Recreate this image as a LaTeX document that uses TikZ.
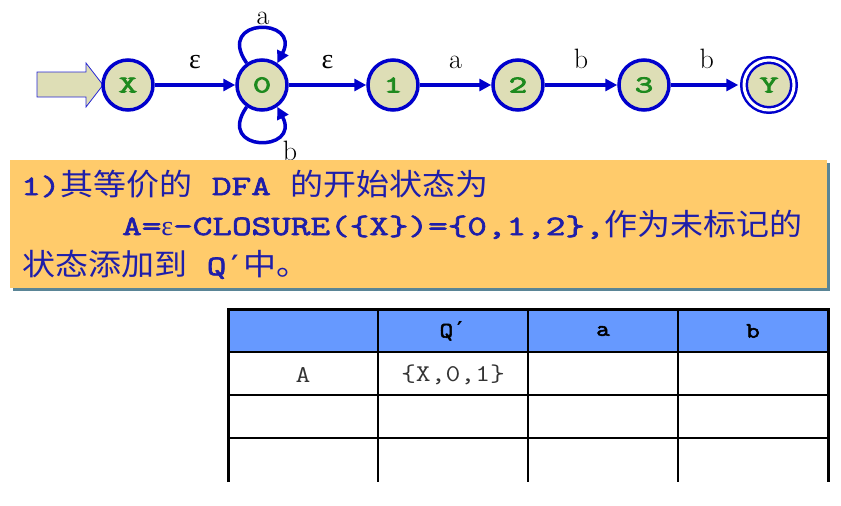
\documentclass[tikz,border=0pt]{standalone}
\usepackage{fontspec}
\usepackage{tikz}
\usetikzlibrary{arrows.meta, shadows, positioning}

\newfontfamily\cjkfont[FakeStretch=1.1]{Noto Sans CJK SC}
\newfontfamily\monofont[FakeStretch=1.2]{Latin Modern Mono}
\newfontfamily\monohead[FakeStretch=1.2, FakeBold=2.5]{Latin Modern Mono}
\newfontfamily\monobold[FakeStretch=1.36, FakeBold=2.5]{Latin Modern Mono}
\newfontfamily\monowide[FakeStretch=1.5, FakeBold=3.5]{Latin Modern Mono}
\newfontfamily\primefont{DejaVu Sans Mono}
\newfontfamily\greekfont{Liberation Serif}

\definecolor{statefill}{HTML}{DEDEB6}
\definecolor{stateblue}{HTML}{0000CC}
\definecolor{labelgreen}{HTML}{1E8A1E}
\definecolor{notefill}{HTML}{FFCB6B}
\definecolor{noteshadow}{HTML}{5A8596}
\definecolor{notetext}{HTML}{1E1EAA}
\definecolor{headfill}{HTML}{6699FF}

\newcommand{\zh}[1]{{\fontsize{30}{30}\cjkfont #1}}
\newcommand{\tb}[1]{{\monobold #1}}
\newcommand{\gr}[1]{{\greekfont #1}}
\newcommand{\pr}{{\primefont\bfseries ′}}

\begin{document}
\begin{tikzpicture}[x=1pt, y=-1pt, node distance=125pt]

\tikzstyle{state} = [circle, minimum size=50pt, inner sep=0pt, fill=statefill, draw=stateblue, line width=3.5pt, text=labelgreen, font=\fontsize{24}{24}\monowide]
\tikzstyle{final} = [state, double, double distance=3pt, line width=2.5pt]
\tikzstyle{arrow} = [line width=3.5pt, draw=stateblue, -{Triangle[length=12pt, width=12pt]}]
\tikzstyle{lbl} = [anchor=base, yshift=17pt, inner sep=0pt, font=\fontsize{28}{28}\selectfont]
\tikzstyle{notebox} = [rectangle, minimum width=817pt, minimum height=128pt, fill=notefill, drop shadow={shadow xshift=3pt, shadow yshift=-3pt, fill=noteshadow, opacity=1}]
\tikzstyle{noteline} = [anchor=base west, inner sep=0pt, text=notetext, font=\fontsize{28}{28}\selectfont]
\tikzstyle{cell} = [inner sep=0pt, font=\fontsize{24}{24}\monofont]
\tikzstyle{headcell} = [inner sep=0pt, font=\fontsize{22}{22}\monohead]

\useasboundingbox (0,0) rectangle (841,506);

% start arrow
\draw [fill=statefill, draw=stateblue!85, line width=0.8pt] (37,72) -- (86,72) -- (86,63) -- (103,85) -- (86,107) -- (86,97) -- (37,97) -- cycle;

\node (x) [state] at (128,85) {X};
\node (q0) [state, right of=x, xshift=9pt] {0};
\node (q1) [state, right of=q0, xshift=6pt] {1};
\node (q2) [state, right of=q1] {2};
\node (q3) [state, right of=q2, xshift=1pt] {3};
\node (y) [final, right of=q3] {Y};

\draw [arrow] (x) -- node [lbl] {\gr{ε}} (q0);
\draw [arrow] (q0) -- node [lbl] {\gr{ε}} (q1);
\draw [arrow] (q1) -- node [lbl] {a} (q2);
\draw [arrow] (q2) -- node [lbl] {b} (q3);
\draw [arrow, shorten >=4.5pt] (q3) -- node [lbl] {b} (y);
\draw [arrow] (q0.125) .. controls +(-32,-46) and +(24,-46) .. node [lbl, yshift=-13pt, xshift=4pt] {a} (q0.55);
\draw [arrow] (q0.235) .. controls +(-32,46) and +(24,46) .. node [lbl, yshift=-36pt, xshift=31pt] {b} (q0.305);

% note
\node (note) [notebox, anchor=north west] at (10,160) {};
\node (l1) [noteline] at (21,195) {\tb{1)}\zh{其等价的}\tb{\ DFA\ }\zh{的开始状态为}};
\node (l2) [noteline] at (122,235) {\tb{A=}\gr{ε}\tb{-CLOSURE(\{X\})=\{0,1,2\},}\zh{作为未标记的}};
\node (l3) [noteline] at (22,275) {\zh{状态添加到}\tb{\ Q}\pr\zh{中。}};

% table
\fill [headfill] (228,309) rectangle (828,352);
\foreach \y in {352,395,438}
  \draw [line width=1.5pt] (228,\y) -- (828,\y);
\foreach \x in {378,528,678}
  \draw [line width=1.5pt] (\x,309) -- (\x,482);
\draw [line width=3pt] (228,482) -- (228,309) -- (828,309) -- (828,482);

\node (hq) [headcell] at (453,331) {Q\pr};
\node (ha) [headcell] at (603,331) {a};
\node (hb) [headcell] at (753,331) {b};
\node (ra) [cell, text=black!80] at (303,375) {A};
\node (rq) [cell, text=black!80] at (453,375) {\{X,0,1\}};

\end{tikzpicture}
\end{document}
